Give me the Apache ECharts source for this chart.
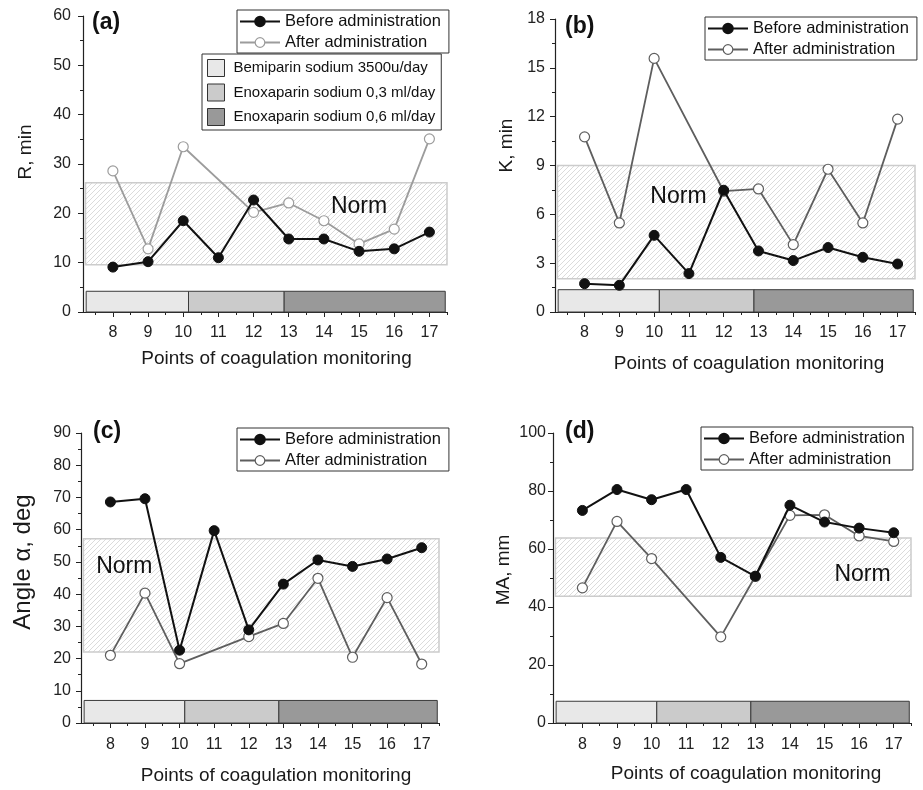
<!DOCTYPE html>
<html>
<head>
<meta charset="utf-8">
<script src="https://cdn.jsdelivr.net/npm/echarts@6/dist/echarts.min.js"></script>
<style>html,body{margin:0;padding:0;background:#fff;}#chart{width:923px;height:790px;}</style>
</head>
<body>
<div id="chart"></div>
<script>
// ---------- data ----------
const points = [8, 9, 10, 11, 12, 13, 14, 15, 16, 17];
const xTickLabels = ['8', '9', '10', '11', '12', '13', '14', '15', '16', '17'];

const rBefore = [9.1, 10.2, 18.5, 11.0, 22.7, 14.8, 14.8, 12.3, 12.8, 16.2];
const rAfter = [28.6, 12.8, 33.5, null, 20.2, 22.1, 18.5, 13.8, 16.8, 35.1];
const rNorm = [9.6, 26.2];

const kBefore = [1.74, 1.64, 4.71, 2.36, 7.48, 3.75, 3.16, 3.96, 3.36, 2.95];
const kAfter = [10.76, 5.47, 15.58, null, 7.42, 7.56, 4.14, 8.77, 5.47, 11.85];
const kNorm = [2.05, 9.0];

const angleBefore = [68.6, 69.6, 22.6, 59.7, 28.9, 43.1, 50.6, 48.6, 50.9, 54.4];
const angleAfter = [21.0, 40.3, 18.4, null, 26.8, 30.9, 44.9, 20.4, 38.9, 18.3];
const angleNorm = [22.0, 57.2];

const maBefore = [73.3, 80.5, 77.0, 80.5, 57.1, 50.6, 75.1, 69.3, 67.2, 65.6];
const maAfter = [46.6, 69.5, 56.7, null, 29.7, 50.6, 71.6, 71.8, 64.5, 62.6];
const maNorm = [43.7, 63.8];

const normX = [7.22, 17.5];
const regimenNames = ['Bemiparin sodium 3500u/day', 'Enoxaparin sodium 0,3 ml/day', 'Enoxaparin sodium 0,6 ml/day'];
const regimenBounds = [7.24, 10.15, 12.87, 17.45];
const seriesNames = ['Before administration', 'After administration'];

// ---------- styles ----------
const FONT = '"Liberation Sans", Arial, Helvetica, sans-serif';
const regimenColors = ['#e8e8e8', '#cbcbcb', '#999999'];
const BEFORE_C = '#111111';

function hatch() {
  const c = document.createElement('canvas');
  const s = 5;
  c.width = s; c.height = s;
  const g = c.getContext('2d');
  g.fillStyle = '#ffffff';
  g.fillRect(0, 0, s, s);
  g.strokeStyle = '#d2d2d2';
  g.lineWidth = 0.8;
  g.beginPath();
  g.moveTo(-1, s + 1); g.lineTo(s + 1, -1);
  g.moveTo(-1, 1); g.lineTo(1, -1);
  g.moveTo(s - 1, s + 1); g.lineTo(s + 1, s - 1);
  g.stroke();
  return c;
}
const hatchImg = hatch();

const panels = [
  { label: '(a)', before: rBefore, after: rAfter, norm: rNorm, normText: [15.0, 21.4],
    yName: 'R, min', yMax: 60, yInt: 10, yNameSize: 19, yNameGap: 48, yNamePad: 24, yLabMargin: 12,
    barTop: 4.2, afterColor: '#9c9c9c',
    grid: { left: 83, top: 16, width: 364, height: 296 },
    xNameGap: 37, xNamePad: 23, xLabMargin: 13,
    title: { left: 92, top: 11 }, legend: { left: 237, top: 10 } },
  { label: '(b)', before: kBefore, after: kAfter, norm: kNorm, normText: [10.7, 7.07],
    yName: 'K, min', yMax: 18, yInt: 3, yNameSize: 19, yNameGap: 39, yNamePad: 40, yLabMargin: 10,
    barTop: 1.37, afterColor: '#5e5e5e',
    grid: { left: 555, top: 19, width: 360, height: 293 },
    xNameGap: 42, xNamePad: 28, xLabMargin: 13,
    title: { left: 565, top: 15 }, legend: { left: 705, top: 17 } },
  { label: '(c)', before: angleBefore, after: angleAfter, norm: angleNorm, normText: [8.4, 48.6],
    yName: 'Angle \u03b1, deg', yMax: 90, yInt: 10, yNameSize: 24, yNameGap: 46, yNamePad: 32, yLabMargin: 10,
    barTop: 7.0, afterColor: '#5e5e5e',
    grid: { left: 81, top: 433, width: 358, height: 290 },
    xNameGap: 43, xNamePad: 32, xLabMargin: 14,
    title: { left: 93, top: 420 }, legend: { left: 237, top: 428 } },
  { label: '(d)', before: maBefore, after: maAfter, norm: maNorm, normText: [16.1, 51.1],
    yName: 'MA, mm', yMax: 100, yInt: 20, yNameSize: 19, yNameGap: 40, yNamePad: 16, yLabMargin: 7,
    barTop: 7.5, afterColor: '#5e5e5e',
    grid: { left: 553, top: 433, width: 358, height: 290 },
    xNameGap: 41, xNamePad: 28, xLabMargin: 14,
    title: { left: 565, top: 420 }, legend: { left: 701, top: 427 } }
];

function pairs(ys) {
  const out = [];
  points.forEach((x, i) => { if (ys[i] !== null) out.push([x, ys[i]]); });
  return out;
}

const minorTicks = points.map(p => p - 0.5).concat([17.5]);
const X_MIN = 7.15, X_MAX = 17.5;

const option = {
  backgroundColor: '#ffffff',
  animation: false,
  textStyle: { fontFamily: FONT },
  title: [], grid: [], xAxis: [], yAxis: [], series: [], legend: []
};

panels.forEach((p, i) => {
  option.grid.push(Object.assign({ containLabel: false }, p.grid));
  option.title.push({
    text: p.label, left: p.title.left, top: p.title.top, padding: 0,
    textStyle: { fontSize: 23, fontWeight: 'bold', color: '#111', fontFamily: FONT }
  });
  // main x axis
  option.xAxis.push({
    type: 'value', gridIndex: i, min: X_MIN, max: X_MAX, position: 'bottom',
    axisLine: { show: true, onZero: false, lineStyle: { color: '#222', width: 1.2 } },
    axisTick: { show: true, customValues: points, length: 5, lineStyle: { color: '#222', width: 1 } },
    axisLabel: { show: true, customValues: points, margin: p.xLabMargin, fontSize: 16, color: '#222', fontFamily: FONT,
      formatter: v => xTickLabels[points.indexOf(v)] },
    splitLine: { show: false },
    name: 'Points of coagulation monitoring', nameLocation: 'middle', nameGap: p.xNameGap,
    nameTextStyle: { fontSize: 19, color: '#1a1a1a', fontFamily: FONT, padding: [0, 0, 0, p.xNamePad] }
  });
  // minor x ticks
  option.xAxis.push({
    type: 'value', gridIndex: i, min: X_MIN, max: X_MAX, position: 'bottom', offset: 0,
    axisLine: { show: false, onZero: false },
    axisTick: { show: true, customValues: minorTicks, length: 3, lineStyle: { color: '#222', width: 1 } },
    axisLabel: { show: false }, splitLine: { show: false }
  });
  option.yAxis.push({
    type: 'value', gridIndex: i, min: 0, max: p.yMax, interval: p.yInt,
    axisLine: { show: true, lineStyle: { color: '#222', width: 1.2 } },
    axisTick: { show: true, length: 5, lineStyle: { color: '#222', width: 1 } },
    minorTick: { show: true, splitNumber: 2, length: 3, lineStyle: { color: '#222', width: 1 } },
    axisLabel: { margin: p.yLabMargin, fontSize: 16, color: '#222', fontFamily: FONT },
    splitLine: { show: false },
    name: p.yName, nameLocation: 'middle', nameGap: p.yNameGap,
    nameTextStyle: { fontSize: p.yNameSize, color: '#1a1a1a', fontFamily: FONT, padding: [0, 0, 0, p.yNamePad] }
  });

  const xi = 2 * i;
  // norm band
  option.series.push({
    type: 'line', name: 'norm' + i, data: [], xAxisIndex: xi, yAxisIndex: i, z: 1, silent: true,
    markArea: {
      silent: true, label: { show: false },
      itemStyle: { color: { image: hatchImg, repeat: 'repeat' }, borderColor: '#cccccc', borderWidth: 1.5, opacity: 1 },
      data: [[{ coord: [normX[0], p.norm[0]] }, { coord: [normX[1], p.norm[1]] }]]
    },
    markPoint: {
      silent: true, symbol: 'circle', symbolSize: 0,
      label: { show: true, position: 'inside', formatter: 'Norm', fontSize: 23, color: '#111', fontFamily: FONT },
      data: [{ coord: p.normText }]
    }
  });
  // regimen bars
  regimenNames.forEach((nm, j) => {
    option.series.push({
      type: 'scatter', name: nm, data: [], xAxisIndex: xi, yAxisIndex: i, z: 2, silent: true,
      symbol: 'rect', itemStyle: { color: regimenColors[j], borderColor: '#333', borderWidth: 1, opacity: 1 },
      markArea: {
        silent: true, label: { show: false },
        itemStyle: { color: regimenColors[j], borderColor: '#3a3a3a', borderWidth: 1, opacity: 1 },
        data: [[{ coord: [regimenBounds[j], 0] }, { coord: [regimenBounds[j + 1], p.barTop] }]]
      }
    });
  });
  // data lines
  option.series.push({
    type: 'line', name: seriesNames[1], data: pairs(p.after), xAxisIndex: xi, yAxisIndex: i, z: 4,
    symbol: 'circle', symbolSize: 10, showAllSymbol: true,
    lineStyle: { color: p.afterColor, width: 1.8 },
    itemStyle: { color: '#ffffff', borderColor: p.afterColor, borderWidth: 1.2 }
  });
  option.series.push({
    type: 'line', name: seriesNames[0], data: pairs(p.before), xAxisIndex: xi, yAxisIndex: i, z: 5,
    symbol: 'circle', symbolSize: 10, showAllSymbol: true,
    lineStyle: { color: BEFORE_C, width: 2 },
    itemStyle: { color: BEFORE_C, borderColor: BEFORE_C, borderWidth: 1 }
  });

  option.legend.push({
    left: p.legend.left, top: p.legend.top, orient: 'vertical', selectedMode: false, z: 10,
    itemWidth: 40, itemHeight: 12, itemGap: 4, padding: [3, 8, 2, 2],
    borderColor: '#333', borderWidth: 1, backgroundColor: '#fff',
    textStyle: { fontSize: 16.5, color: '#111', fontFamily: FONT },
    data: [
      { name: seriesNames[0], itemStyle: { color: BEFORE_C, borderColor: BEFORE_C }, lineStyle: { color: BEFORE_C, width: 2 } },
      { name: seriesNames[1], itemStyle: { color: '#fff', borderColor: p.afterColor, borderWidth: 1.2 }, lineStyle: { color: p.afterColor, width: 1.8 } }
    ]
  });
});

// regimen legend (panel a)
option.legend.push({
  left: 202, top: 54, orient: 'vertical', selectedMode: false, z: 10,
  icon: 'rect', itemWidth: 17, itemHeight: 17, itemGap: 6.5, padding: [5, 6, 4, 5],
  borderColor: '#333', borderWidth: 1, backgroundColor: '#fff',
  textStyle: { fontSize: 15, color: '#111', fontFamily: FONT, padding: [0, 0, 0, 4] },
  data: regimenNames.map((nm, j) => ({ name: nm, itemStyle: { color: regimenColors[j], borderColor: '#333', borderWidth: 1, opacity: 1 } }))
});

const chart = echarts.init(document.getElementById('chart'), null, { renderer: 'canvas' });
chart.setOption(option);
</script>
</body>
</html>
